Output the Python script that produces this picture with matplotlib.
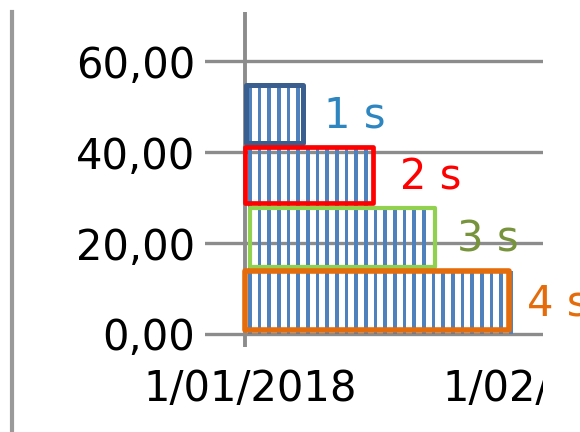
import matplotlib
matplotlib.use("Agg")
import matplotlib.pyplot as plt
from matplotlib.patches import Rectangle
from matplotlib.lines import Line2D
from matplotlib.transforms import Bbox, blended_transform_factory
import numpy as np

# ---- data ----
days = list(range(1, 29))                      # day of January 2018
day_values = [55.0] * 6 + [41.25] * 7 + [27.5] * 6 + [13.75] * 9
y_ticks = [0, 20, 40, 60]
y_tick_labels = ["0,00", "20,00", "40,00", "60,00"]
x_tick_days = [0, 31]                           # days after 1/01/2018
x_tick_labels = ["1/01/2018", "1/02/2018"]

group_labels = ["1 s", "2 s", "3 s", "4 s"]
group_x0 = [0.05, -0.05, 0.47, 0.0]
group_x1 = [5.95, 13.2, 19.6, 27.3]
group_y0 = [42.0, 28.7, 14.7, 0.9]
group_y1 = [54.7, 41.2, 27.7, 13.8]
group_edge_colors = ["#3A5F8E", "#FF0000", "#92D050", "#E46C0A"]
group_text_colors = ["#2E86C1", "#FF0000", "#77933C", "#E46C0A"]
group_edge_widths = [3.6, 3.4, 3.0, 4.0]
label_pos_x = [8.2, 16.0, 21.9, 29.2]
label_pos_y = [48.1, 34.3, 20.7, 6.8]

W, H = 580, 432
fig = plt.figure(figsize=(W / 100, H / 100), dpi=100)
ax = fig.add_axes([205 / W, (H - 347) / H, (543 - 205) / W, (347 - 12) / H])
ax.set_xlim(-4.14, 30.82)
ax.set_ylim(-2.86, 70.8)
for s in ax.spines.values():
    s.set_visible(False)

FONT = "DejaVu Sans"
FS = 30

# gridlines and vertical line at first date
for yv in y_ticks:
    ax.axhline(yv, color="#8C8C8C", lw=2.4, zorder=0.5)
ax.axvline(0, color="#8C8C8C", lw=2.8, zorder=0.5)

# stripes (daily columns)
ax.bar(np.array(days) - 0.5, day_values, width=0.38, color="#4F81BD",
       linewidth=0, zorder=2)

# group outlines
for x0, x1, y0, y1, ec, lw in zip(group_x0, group_x1, group_y0, group_y1,
                                  group_edge_colors, group_edge_widths):
    ax.add_patch(Rectangle((x0, y0), x1 - x0, y1 - y0, fill=False,
                           edgecolor=ec, linewidth=lw, joinstyle="round",
                           zorder=3))

for lab, lx, ly, c in zip(group_labels, label_pos_x, label_pos_y, group_text_colors):
    ax.text(lx, ly, lab, color=c, fontsize=FS, family=FONT,
            ha="left", va="center", zorder=4, clip_on=False)

# y tick labels
ax.set_yticks(y_ticks)
ax.set_yticklabels(y_tick_labels, fontsize=FS, family=FONT)
ax.tick_params(axis="y", length=0, pad=7)
ax.set_xticks([])

# x tick labels (centered on the date category, clipped at the chart edge)
trans = blended_transform_factory(ax.transData, fig.transFigure)
clip = Bbox([[0, 0], [543, H]])
for d, lab in zip(x_tick_days, x_tick_labels):
    t = ax.text(d + 0.5, (H - 389) / H, lab, transform=trans, fontsize=FS,
                family=FONT, ha="center", va="center", color="black")
    t.set_clip_box(clip)
    t.set_clip_on(True)

# left border line of the chart area
fig.add_artist(Line2D([12 / W, 12 / W], [0, (H - 12) / H], color="#9A9A9A",
                      lw=3.0, transform=fig.transFigure))

fig.savefig("out.png", dpi=100)
